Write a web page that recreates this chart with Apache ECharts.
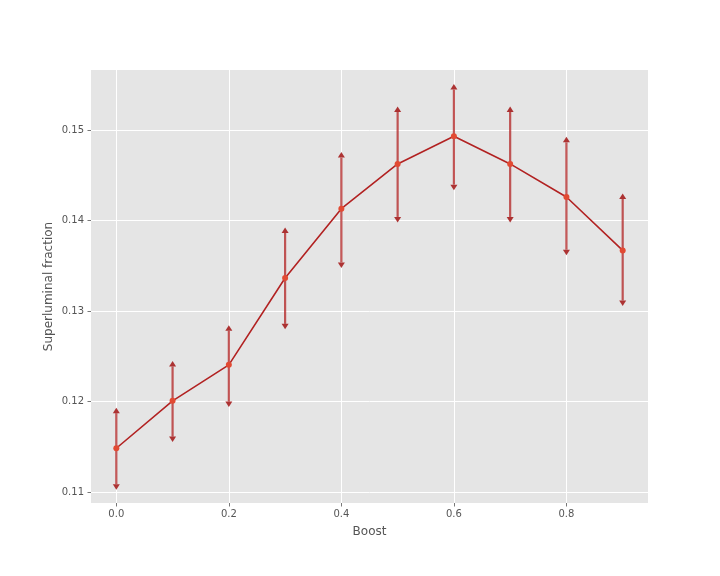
<!DOCTYPE html>
<html>
<head>
<meta charset="utf-8">
<script src="https://cdn.jsdelivr.net/npm/echarts@6/dist/echarts.min.js"></script>
<style>html,body{margin:0;padding:0;background:#fff;}#c{width:720px;height:576px;}</style>
</head>
<body>
<div id="c"></div>
<script>
const boost = [0.0, 0.1, 0.2, 0.3, 0.4, 0.5, 0.6, 0.7, 0.8, 0.9];
const fraction = [0.11483, 0.12007, 0.12405, 0.13364, 0.14131, 0.14625, 0.14930, 0.14625, 0.14260, 0.13669];
const errLower = [0.11085, 0.11612, 0.11999, 0.12858, 0.13536, 0.14039, 0.14396, 0.14039, 0.13677, 0.13116];
const errUpper = [0.11871, 0.12386, 0.12781, 0.13862, 0.14695, 0.15200, 0.15447, 0.15200, 0.14864, 0.14238];
const xTicks = [0.0, 0.2, 0.4, 0.6, 0.8];
const yTicks = [0.11, 0.12, 0.13, 0.14, 0.15];

const lineData = boost.map((x, i) => [x, fraction[i]]);
const errData = boost.map((x, i) => [x, errLower[i], errUpper[i]]);

const chart = echarts.init(document.getElementById('c'), null, {renderer: 'canvas'});
const txt = '#555555';
const font = 'DejaVu Sans';
chart.setOption({
  animation: false,
  backgroundColor: '#ffffff',
  grid: {left: 91, right: 72, top: 70, bottom: 73, show: true, backgroundColor: '#E5E5E5', borderWidth: 0},
  xAxis: {
    type: 'value', min: -0.045, max: 0.945,
    name: 'Boost', nameLocation: 'middle', nameGap: 23, nameMoveOverlap: false,
    nameTextStyle: {color: txt, fontSize: 12, fontFamily: font},
    axisLine: {show: false, onZero: false},
    axisTick: {show: true, length: 3.5, lineStyle: {color: txt, width: 0.8}, customValues: xTicks},
    axisLabel: {color: txt, fontSize: 10, fontFamily: font, margin: 6, customValues: xTicks, formatter: v => v.toFixed(1)},
    splitLine: {show: true, lineStyle: {color: '#ffffff', width: 1}}
  },
  yAxis: {
    type: 'value', min: 0.10878, max: 0.15663,
    name: 'Superluminal fraction', nameLocation: 'middle', nameGap: 36, nameMoveOverlap: false,
    nameTextStyle: {color: txt, fontSize: 12, fontFamily: font},
    axisLine: {show: false, onZero: false},
    axisTick: {show: true, length: 3.5, lineStyle: {color: txt, width: 0.8}, customValues: yTicks},
    axisLabel: {color: txt, fontSize: 10, fontFamily: font, margin: 7, customValues: yTicks, formatter: v => v.toFixed(2)},
    splitLine: {show: true, lineStyle: {color: '#ffffff', width: 1}}
  },
  series: [
    {
      type: 'custom',
      z: 1,
      data: errData,
      renderItem: function (params, api) {
        const x = api.value(0);
        const lo = api.coord([x, api.value(1)]);
        const hi = api.coord([x, api.value(2)]);
        const col = 'rgba(178,34,34,0.75)';
        const capCol = 'rgba(165,30,30,0.9)';
        const w = 3.5, h = 5.5;
        return {
          type: 'group',
          children: [
            {type: 'line', shape: {x1: lo[0], y1: lo[1], x2: hi[0], y2: hi[1]}, style: {stroke: col, lineWidth: 2.2}},
            {type: 'polygon', shape: {points: [[hi[0] - w, hi[1]], [hi[0] + w, hi[1]], [hi[0], hi[1] - h]]}, style: {fill: capCol}},
            {type: 'polygon', shape: {points: [[lo[0] - w, lo[1]], [lo[0] + w, lo[1]], [lo[0], lo[1] + h]]}, style: {fill: capCol}}
          ]
        };
      }
    },
    {
      type: 'line',
      z: 3,
      data: lineData,
      symbol: 'circle',
      symbolSize: 6,
      lineStyle: {color: '#B22222', width: 1.6},
      itemStyle: {color: '#E24A33'}
    }
  ]
});
</script>
</body>
</html>
